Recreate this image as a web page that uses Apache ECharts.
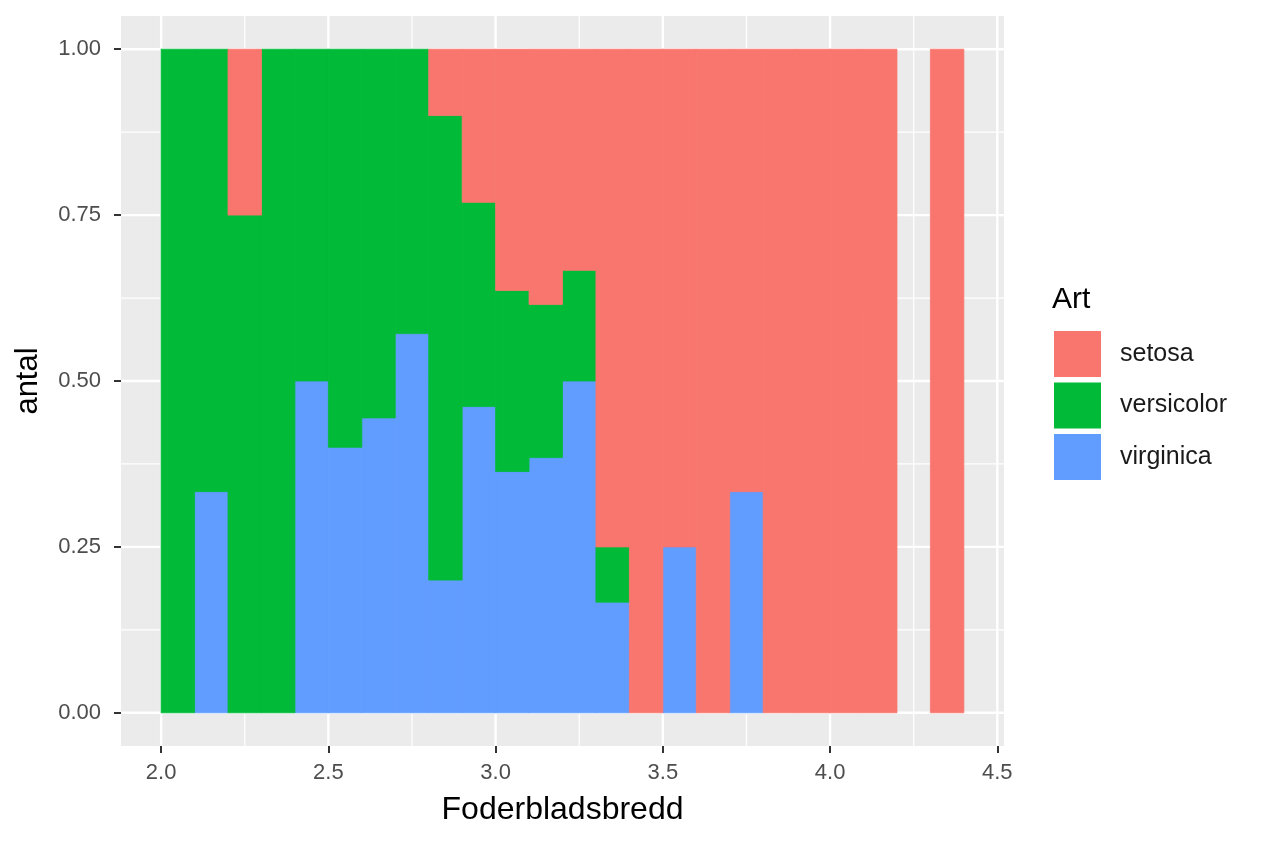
<!DOCTYPE html>
<html lang="sv">
<head>
    <meta charset="UTF-8">
    <title>Foderbladsbredd per art</title>
    <script src="https://cdn.jsdelivr.net/npm/echarts@6.0.0/dist/echarts.min.js"></script>
    <style>
        html, body { margin: 0; padding: 0; background: #fff; }
        #main { width: 1264px; height: 843px; }
    </style>
</head>
<body>
    <div id="main"></div>
    <script>
        // bin start values (binwidth 0.1)
        var binStarts = [2.0, 2.1, 2.2, 2.3, 2.4, 2.5, 2.6, 2.7, 2.8, 2.9, 3.0, 3.1,
                         3.2, 3.3, 3.4, 3.5, 3.6, 3.7, 3.8, 3.9, 4.0, 4.1, 4.2, 4.3];
        var binWidth = 0.1;

        // share of each species per bin (position = "fill")
        var virginica  = [0, 0.3333, 0, 0, 0.5, 0.4, 0.4444, 0.5714, 0.2, 0.4615, 0.3636, 0.3846,
                          0.5, 0.1667, 0, 0.25, 0, 0.3333, 0, 0, 0, 0, 0, 0];
        var versicolor = [1, 0.6667, 0.75, 1, 0.5, 0.6, 0.5556, 0.4286, 0.7, 0.3077, 0.2727, 0.2308,
                          0.1667, 0.0833, 0, 0, 0, 0, 0, 0, 0, 0, 0, 0];
        var setosa     = [0, 0, 0.25, 0, 0, 0, 0, 0, 0.1, 0.2308, 0.3636, 0.3846,
                          0.3333, 0.75, 1, 0.75, 1, 0.6667, 1, 1, 1, 1, 0, 1];

        var xMajor = [2.0, 2.5, 3.0, 3.5, 4.0, 4.5];
        var xMinor = [2.25, 2.75, 3.25, 3.75, 4.25];
        var yMajor = [0, 0.25, 0.5, 0.75, 1];
        var yMinor = [0.125, 0.375, 0.625, 0.875];

        var xMin = 1.88, xMax = 4.52, yMin = -0.05, yMax = 1.05;
        var font = '"Liberation Sans", Arial, Helvetica, sans-serif';

        // stack from the bottom: virginica, versicolor, setosa
        function stackRows(vals, base) {
            return binStarts.map(function (x, i) {
                return [x, base[i], base[i] + vals[i]];
            });
        }
        var zero = binStarts.map(function () { return 0; });
        var base2 = virginica.slice();
        var base3 = virginica.map(function (v, i) { return v + versicolor[i]; });

        function renderBin(params, api) {
            var lo = api.value(1), hi = api.value(2);
            if (hi - lo <= 0) return;
            var p1 = api.coord([api.value(0), hi]);
            var p2 = api.coord([api.value(0) + binWidth, lo]);
            var c = api.visual('color');
            return {
                type: 'rect',
                shape: { x: p1[0], y: p1[1], width: p2[0] - p1[0], height: p2[1] - p1[1] },
                style: { fill: c, stroke: c, lineWidth: 0.8 }
            };
        }

        function gridSeries(values, vertical, width) {
            return {
                type: 'custom',
                silent: true,
                z: 1,
                data: values.map(function (v) { return [v]; }),
                encode: vertical ? { x: 0 } : { y: 0 },
                renderItem: function (params, api) {
                    var v = api.value(0);
                    var a = vertical ? api.coord([v, yMin]) : api.coord([xMin, v]);
                    var b = vertical ? api.coord([v, yMax]) : api.coord([xMax, v]);
                    return {
                        type: 'line',
                        shape: { x1: a[0], y1: a[1], x2: b[0], y2: b[1] },
                        style: { stroke: '#FFFFFF', lineWidth: width }
                    };
                }
            };
        }

        function speciesSeries(name, color, rows) {
            return {
                name: name,
                type: 'custom',
                z: 3,
                itemStyle: { color: color },
                data: rows,
                encode: { x: 0, y: [1, 2] },
                renderItem: renderBin
            };
        }

        var chart = echarts.init(document.getElementById('main'));
        chart.setOption({
            animation: false,
            title: {
                text: 'Art',
                left: 1052,
                top: 285,
                padding: 0,
                textStyle: { fontFamily: font, fontSize: 30, fontWeight: 'normal', color: '#000' }
            },
            legend: {
                orient: 'vertical',
                left: 1054,
                top: 331,
                padding: 0,
                itemWidth: 47,
                itemHeight: 46,
                itemGap: 5.5,
                icon: 'rect',
                data: ['setosa', 'versicolor', 'virginica'],
                textStyle: { fontFamily: font, fontSize: 25, color: '#1A1A1A', padding: [0, 0, 0, 14] }
            },
            grid: {
                left: 121, right: 260, top: 16, bottom: 97,
                show: true, backgroundColor: '#EBEBEB', borderWidth: 0
            },
            xAxis: {
                type: 'value',
                min: xMin,
                max: xMax,
                name: 'Foderbladsbredd',
                nameLocation: 'middle',
                nameGap: 48,
                nameTextStyle: { fontFamily: font, fontSize: 32, color: '#000' },
                axisLine: { show: false, onZero: false },
                splitLine: { show: false },
                axisTick: { show: true, customValues: xMajor, length: 7, lineStyle: { color: '#333', width: 2 } },
                axisLabel: {
                    customValues: xMajor,
                    margin: 16,
                    fontFamily: font, fontSize: 22, color: '#4D4D4D',
                    formatter: function (v) { return v.toFixed(1); }
                }
            },
            yAxis: {
                type: 'value',
                min: yMin,
                max: yMax,
                name: 'antal',
                nameLocation: 'middle',
                nameGap: 77,
                nameTextStyle: { fontFamily: font, fontSize: 31, color: '#000' },
                axisLine: { show: false, onZero: false },
                splitLine: { show: false },
                axisTick: { show: true, customValues: yMajor, length: 7, lineStyle: { color: '#333', width: 2 } },
                axisLabel: {
                    customValues: yMajor,
                    margin: 20,
                    fontFamily: font, fontSize: 22, color: '#4D4D4D',
                    formatter: function (v) { return v.toFixed(2); }
                }
            },
            series: [
                gridSeries(xMinor, true, 1.2),
                gridSeries(yMinor, false, 1.2),
                gridSeries(xMajor, true, 2.4),
                gridSeries(yMajor, false, 2.4),
                speciesSeries('virginica', '#619CFF', stackRows(virginica, zero)),
                speciesSeries('versicolor', '#00BA38', stackRows(versicolor, base2)),
                speciesSeries('setosa', '#F8766D', stackRows(setosa, base3))
            ]
        });
    </script>
</body>
</html>
